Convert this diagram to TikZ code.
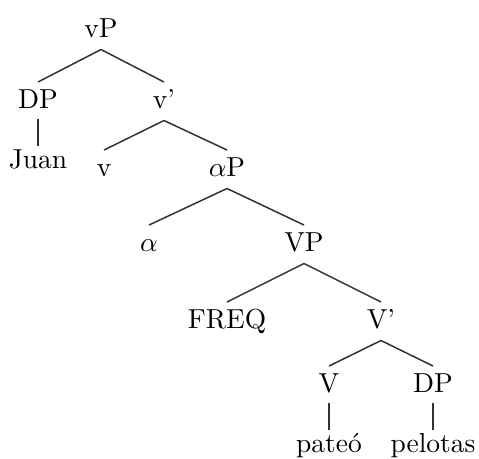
\documentclass[tikz,border=0pt]{standalone}
\begin{document}
\begin{tikzpicture}[x=0.364pt,y=-0.364pt,
  lbl/.style={anchor=base,inner sep=0pt,font=\fontsize{10}{12}\selectfont},
  edge/.style={line width=0.55pt,draw=black!80}]
\useasboundingbox (0,0) rectangle (479,458);
% nodes (x = centre, y = baseline)
\node[lbl] (vP) at (101,37) {vP};
\node[lbl] (DPa) at (38,108) {DP};
\node[lbl] (vbar) at (164,108) {v'};
\node[lbl] (Juan) at (38,168) {Juan};
\node[lbl] (v) at (104,176) {v};
\node[lbl] (aP) at (227,176) {$\alpha$P};
\node[lbl] (a) at (149,251) {$\alpha$};
\node[lbl] (VP) at (304,251) {VP};
\node[lbl] (FREQ) at (227,328) {FREQ};
\node[lbl] (Vbar) at (381,328) {V'};
\node[lbl] (V) at (329,392) {V};
\node[lbl] (DPb) at (433,392) {DP};
\node[lbl] (pateo) at (329,452) {pateó};
\node[lbl] (pelotas) at (433,452) {pelotas};
% branching edges
\foreach \p/\c in {vP/DPa, vP/vbar, vbar/v, vbar/aP, aP/a, aP/VP, VP/FREQ, VP/Vbar, Vbar/V, Vbar/DPb}
  \draw[edge] ([yshift=-4.55pt]\p.base) -- ([yshift=9.46pt]\c.base);
% unary edges
\foreach \p/\c in {DPa/Juan, V/pateo, DPb/pelotas}
  \draw[edge] ([yshift=-4pt]\p.base) -- ([yshift=8pt]\c.base);
\end{tikzpicture}
\end{document}
